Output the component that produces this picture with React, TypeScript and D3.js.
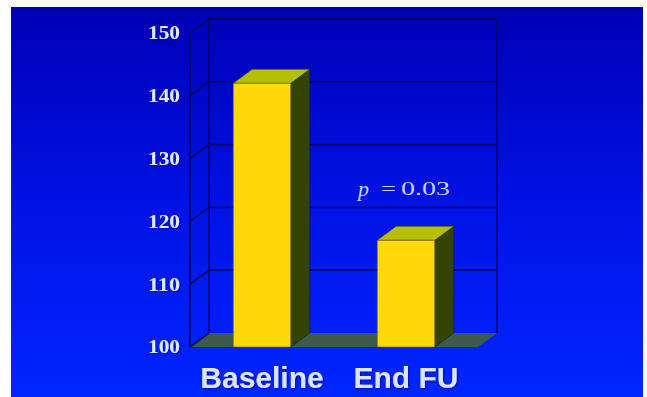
import React, { useEffect } from "react";
import * as d3 from "d3";

const categories = ["Baseline", "End FU"];
const values = [142, 117];
const yTicks = [100, 110, 120, 130, 140, 150];
const annotation = { italic: "p", eq: "=", num: "0.03" };

const W = 647;
const H = 397;
const DX = 19;
const DY = -14;

export default function App() {
  useEffect(() => {
    document.body.style.margin = "0";
  }, []);

  const y = d3.scaleLinear().domain([100, 150]).range([347, 33]);
  const x = d3
    .scaleBand<string>()
    .domain(categories)
    .range([190, 478])
    .paddingInner(0.6)
    .paddingOuter(0.3);

  const x0 = 190;
  const x1 = 478;
  const y0 = y(100);
  const yTop = y(150);
  const grid = "#00085e";

  return (
    <svg width={W} height={H} style={{ display: "block" }}>
      <defs>
        <linearGradient id="bg" x1="0" y1="0" x2="0" y2="1">
          <stop offset="0" stopColor="#0000b4" />
          <stop offset="0.5" stopColor="#0012e4" />
          <stop offset="1" stopColor="#0026ff" />
        </linearGradient>
        <filter id="glow" x="-10%" y="-20%" width="120%" height="140%">
          <feGaussianBlur in="SourceAlpha" stdDeviation="1" result="b" />
          <feFlood floodColor="#000060" floodOpacity="0.6" />
          <feComposite in2="b" operator="in" result="s" />
          <feOffset dx="1" dy="1" result="o" />
          <feMerge>
            <feMergeNode in="o" />
            <feMergeNode in="SourceGraphic" />
          </feMerge>
        </filter>
      </defs>
      <rect x={0} y={0} width={W} height={H} fill="#ffffff" />
      <rect x={11} y={7} width={632} height={H - 7} fill="url(#bg)" />

      {/* floor */}
      <polygon
        points={`${x0},${y0} ${x1},${y0} ${x1 + DX},${y0 + DY} ${x0 + DX},${y0 + DY}`}
        fill="#3b5a4c"
      />

      {/* walls grid */}
      <g stroke={grid} strokeWidth={1.8} fill="none" opacity={0.85}>
        {yTicks.map((t) => (
          <g key={t}>
            <line x1={x0} y1={y(t)} x2={x0 + DX} y2={y(t) + DY} />
            {t !== 100 && (
              <line x1={x0 + DX} y1={y(t) + DY} x2={x1 + DX} y2={y(t) + DY} />
            )}
          </g>
        ))}
        <line x1={x0} y1={y0} x2={x0} y2={yTop} />
        <line x1={x0 + DX} y1={y0 + DY} x2={x0 + DX} y2={yTop + DY} />
        <line x1={x1 + DX} y1={y0 + DY} x2={x1 + DX} y2={yTop + DY} />
      </g>

      {/* bars */}
      {categories.map((c, i) => {
        const bx = x(c)!;
        const bw = x.bandwidth();
        const top = y(values[i]);
        return (
          <g key={c}>
            <polygon
              points={`${bx + bw},${top} ${bx + bw + DX},${top + DY} ${bx + bw + DX},${y0 + DY} ${bx + bw},${y0}`}
              fill="#334400"
              stroke="#1a2200"
              strokeWidth={0.6}
            />
            <polygon
              points={`${bx},${top} ${bx + DX},${top + DY} ${bx + bw + DX},${top + DY} ${bx + bw},${top}`}
              fill="#b4c000"
              stroke="#3a3f00"
              strokeWidth={0.6}
            />
            <rect
              x={bx}
              y={top}
              width={bw}
              height={y0 - top}
              fill="#ffd90a"
              stroke="#6a5a00"
              strokeWidth={0.6}
            />
          </g>
        );
      })}

      {/* y tick labels */}
      <g filter="url(#glow)">
        {yTicks.map((t) => (
          <text
            key={t}
            x={148}
            y={y(t)}
            dy="0.35em"
            textLength={32}
            lengthAdjust="spacingAndGlyphs"
            fontFamily="'Liberation Serif', 'DejaVu Serif', serif"
            fontWeight="bold"
            fontSize={18}
            fill="#dfe6ff"
          >
            {t}
          </text>
        ))}
      </g>

      {/* category labels */}
      <g filter="url(#glow)">
        {categories.map((c) => (
          <text
            key={c}
            x={x(c)! + x.bandwidth() / 2}
            y={388}
            textAnchor="middle"
            fontFamily="'Liberation Sans', Arial, sans-serif"
            fontWeight="bold"
            fontSize={30}
            fill="#dce4ff"
          >
            {c}
          </text>
        ))}
      </g>

      {/* annotation */}
      <g
        fontFamily="'Liberation Serif', serif"
        fontSize={18}
        fill="#c8d4ff"
      >
        <text x={358} y={196} fontStyle="italic" fontSize={22}>
          {annotation.italic}
        </text>
        <text x={381} y={195} textLength={15} lengthAdjust="spacingAndGlyphs">
          {annotation.eq}
        </text>
        <text x={401} y={195} textLength={49} lengthAdjust="spacingAndGlyphs">
          {annotation.num}
        </text>
      </g>
    </svg>
  );
}
